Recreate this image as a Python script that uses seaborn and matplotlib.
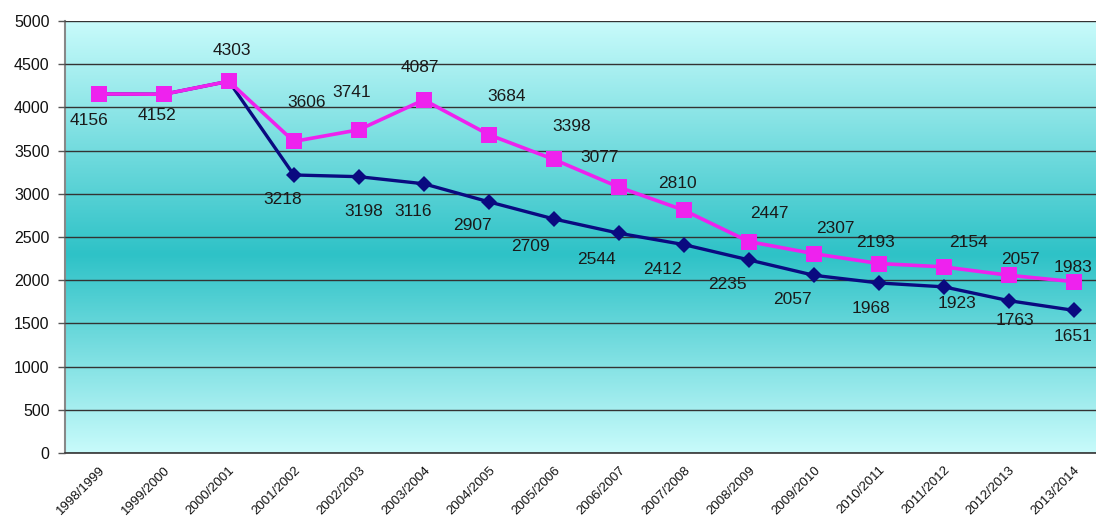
import numpy as np
import pandas as pd
import matplotlib
matplotlib.use("Agg")
import matplotlib.pyplot as plt
from matplotlib.colors import LinearSegmentedColormap
import seaborn as sns

seasons = ["1998/1999", "1999/2000", "2000/2001", "2001/2002", "2002/2003", "2003/2004",
           "2004/2005", "2005/2006", "2006/2007", "2007/2008", "2008/2009", "2009/2010",
           "2010/2011", "2011/2012", "2012/2013", "2013/2014"]
pink_values = [4156, 4152, 4303, 3606, 3741, 4087, 3684, 3398, 3077, 2810, 2447, 2307,
               2193, 2154, 2057, 1983]
navy_values = [4156, 4152, 4303, 3218, 3198, 3116, 2907, 2709, 2544, 2412, 2235, 2057,
               1968, 1923, 1763, 1651]
y_ticks = list(range(0, 5001, 500))

# label offsets in pixels (style only)
pink_off = [(-10, -27), (-7, -21), (3, 31), (13, 39), (-7, 37), (-4, 32), (18, 38), (18, 33),
            (-19, 30), (-6, 27), (21, 28), (22, 25), (-3, 21), (25, 24), (12, 16), (-1, 14)]
navy_off = [(0, 0), (0, 0), (0, 0), (-11, -25), (5, -35), (-11, -28), (-16, -24), (-23, -28),
            (-22, -26), (-21, -25), (-21, -25), (-21, -24), (-8, -26), (13, -17), (6, -20), (-1, -26)]

sns.set_theme(style="white")
plt.rcParams['font.family'] = ['Liberation Sans', 'DejaVu Sans']

fig = plt.figure(figsize=(10.96, 5.23), dpi=100)
ax = fig.add_axes([65 / 1096, 1 - 453 / 523, 1 - 65 / 1096, 432 / 523])

# gradient background
light = "#c8fbfb"
dark = "#2ec2c7"
cmap = LinearSegmentedColormap.from_list("bg", [(0, light), (0.46, dark), (1, light)])
grad = np.linspace(0, 1, 256).reshape(-1, 1)
ax.imshow(grad, extent=[0, 1, 0, 1], transform=ax.transAxes, aspect="auto",
          cmap=cmap, zorder=0, origin="lower")

df = pd.DataFrame({"season": seasons, "pink": pink_values, "navy": navy_values})
sns.lineplot(data=df, x="season", y="navy", ax=ax, color="#0a0a80", lw=2.4, marker="D",
             markersize=8.5, markeredgewidth=0, sort=False, zorder=3)
sns.lineplot(data=df, x="season", y="pink", ax=ax, color="#ee22ee", lw=2.6, marker="s",
             markersize=11, markeredgewidth=0, sort=False, zorder=4)

for i, v in enumerate(pink_values):
    ax.annotate(str(v), (i, v), xytext=pink_off[i], textcoords="offset pixels",
                ha="center", va="center", fontsize=12.5, color="#1a1a1a", zorder=6,
                annotation_clip=False)
for i, v in enumerate(navy_values):
    if v != pink_values[i]:
        ax.annotate(str(v), (i, v), xytext=navy_off[i], textcoords="offset pixels",
                    ha="center", va="center", fontsize=12.5, color="#1a1a1a", zorder=6,
                    annotation_clip=False)

ax.set_ylim(0, 5000)
ax.set_xlim(-0.52, 15.34)
ax.set_yticks(y_ticks)
ax.set_yticklabels([str(t) for t in y_ticks], fontsize=11.5, color="#111111")
ax.yaxis.grid(True, color="#333333", lw=1.0, zorder=1)
ax.set_axisbelow(False)
ax.xaxis.grid(False)
ax.set_xlabel("")
ax.set_ylabel("")

ax.set_xticks(range(len(seasons)))
ax.set_xticklabels(seasons, rotation=45, ha="right", va="top", rotation_mode="anchor",
                   fontsize=9.5, color="#111111")
ax.tick_params(axis="x", which="major", length=0, pad=8)
ax.set_xticks(np.arange(len(seasons)) - 0.5, minor=True)
ax.tick_params(axis="x", which="minor", length=5, width=1, color="#333333", direction="out")
ax.tick_params(axis="y", length=5, width=1, color="#555555", direction="out", pad=6, left=True)

for s in ["top", "right"]:
    ax.spines[s].set_visible(False)
ax.spines["left"].set_color("#888888")
ax.spines["left"].set_linewidth(1.5)
ax.spines["bottom"].set_color("#333333")
ax.spines["bottom"].set_linewidth(1.2)

fig.savefig("out.png", dpi=100)
